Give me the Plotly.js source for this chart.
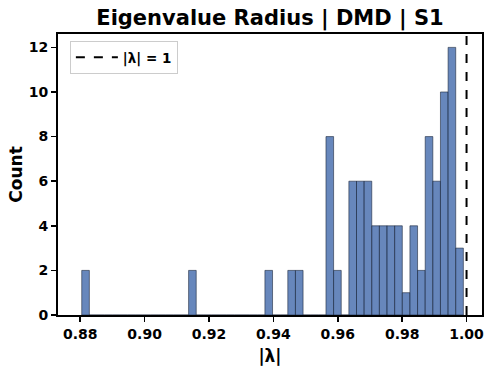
<!DOCTYPE html>
<html>
<head>
<meta charset="utf-8">
<script src="https://cdn.plot.ly/plotly-3.0.1.min.js"></script>
<style>body{margin:0;padding:0;background:#fff}#chart{width:487px;height:368px}</style>
</head>
<body>
<div id="chart"></div>
<script>
// Histogram of eigenvalue radii: 50 bins between binStart and binEnd
var binStart = 0.88047;
var binEnd = 0.99901;
var binCounts = [
  2,0,0,0,0,0,0,0,0,0,
  0,0,0,0,2,0,0,0,0,0,
  0,0,0,0,2,0,0,2,2,0,
  0,0,8,2,0,6,6,6,4,4,
  4,4,1,4,2,8,6,10,12,3
];
var refValue = 1.0;
var xTickVals = [0.88, 0.90, 0.92, 0.94, 0.96, 0.98, 1.00];
var xTickText = ["0.88", "0.90", "0.92", "0.94", "0.96", "0.98", "1.00"];
var yTickVals = [0, 2, 4, 6, 8, 10, 12];

var nBins = binCounts.length;
var binW = (binEnd - binStart) / nBins;
var centers = binCounts.map(function(_, i){ return binStart + (i + 0.5) * binW; });
var yMax = 12.6;

var bars = {
  type: 'bar',
  x: centers,
  y: binCounts,
  width: binW,
  marker: {color: 'rgba(76,114,176,0.85)', line: {color: 'rgba(20,30,50,0.8)', width: 0.7}},
  showlegend: false,
  hoverinfo: 'x+y'
};
var vline = {
  type: 'scatter',
  mode: 'lines',
  x: [refValue, refValue],
  y: [0, yMax],
  line: {color: 'black', width: 2, dash: 'dash'},
  name: '<b>|λ| = 1</b>',
  showlegend: true
};

var fontFam = 'DejaVu Sans, sans-serif';
var layout = {
  width: 487, height: 368,
  margin: {l: 58, r: 5, t: 34, b: 53},
  paper_bgcolor: 'white', plot_bgcolor: 'white',
  bargap: 0,
  font: {family: fontFam, color: 'black'},
  title: {text: '<b>Eigenvalue Radius | DMD | S1</b>', font: {size: 21, family: fontFam, color: 'black'}, xref: 'paper', x: 0.5, xanchor: 'center', yref: 'container', y: 0.951, yanchor: 'middle'},
  xaxis: {
    range: [0.8731, 1.0048],
    tickvals: xTickVals, ticktext: xTickText.map(function(t){return '<b>'+t+'</b>';}),
    ticks: 'outside', ticklen: 5, tickwidth: 1.5, tickcolor: 'black',
    tickfont: {size: 14, family: fontFam, color: 'black'},
    showline: true, linecolor: 'black', linewidth: 2, mirror: true,
    showgrid: false, zeroline: false,
    title: {text: '<b>|λ|</b>', font: {size: 17, family: fontFam, color: 'black'}, standoff: 9}
  },
  yaxis: {
    range: [0, yMax],
    tickvals: yTickVals, ticktext: yTickVals.map(function(t){return '<b>'+t+'</b>';}),
    ticks: 'outside', ticklen: 5, tickwidth: 1.5, tickcolor: 'black',
    tickfont: {size: 14, family: fontFam, color: 'black'},
    showline: true, linecolor: 'black', linewidth: 2, mirror: true,
    showgrid: false, zeroline: false,
    title: {text: '<b>Count</b>', font: {size: 17, family: fontFam, color: 'black'}, standoff: 2}
  },
  legend: {
    x: 0.028, y: 0.975, xanchor: 'left', yanchor: 'top',
    itemwidth: 42,
    bgcolor: 'rgba(255,255,255,0.8)', bordercolor: '#cccccc', borderwidth: 1,
    font: {size: 13.5, family: fontFam, color: 'black'}
  }
};

Plotly.newPlot('chart', [bars, vline], layout, {staticPlot: true, displayModeBar: false});
</script>
</body>
</html>
